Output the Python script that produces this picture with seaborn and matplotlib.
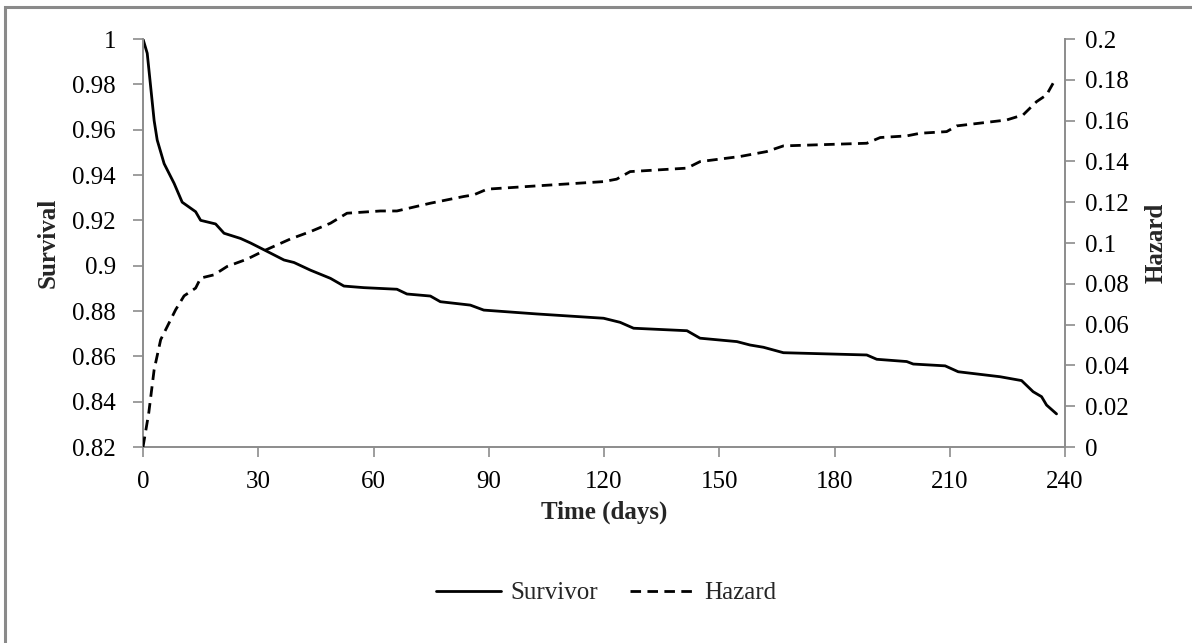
import matplotlib
matplotlib.use("Agg")
import matplotlib.pyplot as plt
import seaborn as sns
import pandas as pd
from matplotlib.patches import Rectangle
from matplotlib.lines import Line2D

surv_days = [0, 1.1, 2.9, 3.7, 5.5, 8.1, 10.2, 13.7, 15, 18.9, 21.1, 25.4, 28, 31.5, 36.7,
             39.3, 43.6, 48.8, 52.3, 57.5, 66.1, 68.7, 74.8, 77.4, 85.2, 88.7, 102.5,
             119.9, 124.2, 127.7, 141.6, 145, 154.6, 158, 161.5, 166.7, 188.4, 191,
             198.8, 200.5, 208.8, 212.2, 223.1, 228.7, 231.7, 233.9, 235.2, 237.8]
survival = [1.0, 0.9937, 0.964, 0.9554, 0.945, 0.9363, 0.928, 0.9238, 0.920, 0.9184, 0.9143,
            0.912, 0.910, 0.907, 0.9025, 0.9014, 0.898, 0.8944, 0.891, 0.8903, 0.8896,
            0.8875, 0.8866, 0.8841, 0.8826, 0.8804, 0.8787, 0.8768, 0.875, 0.8724, 0.8713,
            0.868, 0.8665, 0.865, 0.864, 0.8616, 0.8606, 0.8587, 0.8577, 0.8566, 0.8558,
            0.8532, 0.851, 0.8493, 0.8444, 0.8422, 0.8385, 0.8346]

haz_days = [0, 1.5, 2.9, 4.6, 6.3, 8.5, 10.7, 13.7, 15, 18.5, 21.9, 27.1, 31.5, 38.4, 43.6,
            48.8, 53.1, 61.8, 66.1, 74.8, 83.5, 86.1, 89.6, 102.5, 119.9, 123.3, 126.8,
            141.6, 145, 155.4, 162.3, 166.7, 188.4, 191.9, 198.8, 202.3, 209.2, 211.8,
            224.8, 229.1, 232.6, 235.2, 236.9]
hazard = [0.0, 0.0167, 0.0379, 0.0526, 0.059, 0.0673, 0.0741, 0.0779, 0.0828, 0.0844, 0.0885,
          0.0921, 0.0962, 0.102, 0.1056, 0.1097, 0.1146, 0.1157, 0.1157, 0.1195, 0.1228,
          0.1236, 0.1264, 0.128, 0.1301, 0.1313, 0.135, 0.1367, 0.1399, 0.1424, 0.1448,
          0.1476, 0.1489, 0.1517, 0.1525, 0.1538, 0.1546, 0.1574, 0.1603, 0.1628, 0.1693,
          0.1726, 0.1783]

x_ticks = [0, 30, 60, 90, 120, 150, 180, 210, 240]
left_ticks = [0.82, 0.84, 0.86, 0.88, 0.9, 0.92, 0.94, 0.96, 0.98, 1.0]
left_labels = ["0.82", "0.84", "0.86", "0.88", "0.9", "0.92", "0.94", "0.96", "0.98", "1"]
right_ticks = [0, 0.02, 0.04, 0.06, 0.08, 0.1, 0.12, 0.14, 0.16, 0.18, 0.2]
right_labels = ["0", "0.02", "0.04", "0.06", "0.08", "0.1", "0.12", "0.14", "0.16", "0.18", "0.2"]

sns.set_theme(style="white")
plt.rcParams["font.family"] = ["Liberation Serif", "DejaVu Serif"]

GRAY = "#8c8c8c"
FS = 18
DASH = [3.8, 2.3]

fig = plt.figure(figsize=(11.92, 6.43), dpi=100)
ax = fig.add_axes([143 / 1192, 1 - 447 / 643, (1065 - 143) / 1192, (447 - 39) / 643])
ax2 = ax.twinx()

df_s = pd.DataFrame({"day": surv_days, "value": survival})
df_h = pd.DataFrame({"day": haz_days, "value": hazard})
sns.lineplot(data=df_s, x="day", y="value", ax=ax, color="black", lw=2, legend=False)
sns.lineplot(data=df_h, x="day", y="value", ax=ax2, color="black", lw=2, legend=False)
ax2.lines[0].set_dashes(DASH)

ax.set_xlim(0, 240)
ax.set_ylim(0.82, 1.0)
ax2.set_ylim(0, 0.2)
ax.set_xticks(x_ticks)
ax.set_xticklabels([str(t) for t in x_ticks])
ax.set_yticks(left_ticks)
ax.set_yticklabels(left_labels)
ax2.set_yticks(right_ticks)
ax2.set_yticklabels(right_labels)

for a in (ax, ax2):
    for s in a.spines.values():
        s.set_visible(False)
    a.tick_params(colors=GRAY, labelcolor="black", labelsize=FS, length=7.5, width=1.2,
                  direction="out")
ax.spines["left"].set_visible(True)
ax.spines["bottom"].set_visible(True)
ax2.spines["right"].set_visible(True)
for s in (ax.spines["left"], ax.spines["bottom"], ax2.spines["right"]):
    s.set_color(GRAY)
    s.set_linewidth(1.4)
ax.tick_params(axis="x", bottom=True, pad=10)
ax.tick_params(axis="y", left=True, pad=12)
ax2.tick_params(axis="y", right=True, pad=7)

ax.set_xlabel("Time (days)", fontsize=FS, fontweight="bold", labelpad=5)
ax.set_ylabel("Survival", fontsize=FS, fontweight="bold", labelpad=9)
ax2.set_ylabel("Hazard", fontsize=FS, fontweight="bold", labelpad=11)

handles = [Line2D([], [], color="black", lw=2),
           Line2D([], [], color="black", lw=2, dashes=DASH)]
fig.legend(handles, ["Survivor", "Hazard"], loc="center", bbox_to_anchor=(606 / 1192, 1 - 593 / 643),
           ncol=2, frameon=False, fontsize=FS, handlelength=2.6, columnspacing=1.3,
           handletextpad=0.35)

fig.patches.append(Rectangle((5 / 1192, -0.1), 1.2, 1 - 7 / 643 + 0.1, transform=fig.transFigure,
                             fill=False, edgecolor="#8a8a8a", lw=2.2))

fig.savefig("out.png", dpi=100)
